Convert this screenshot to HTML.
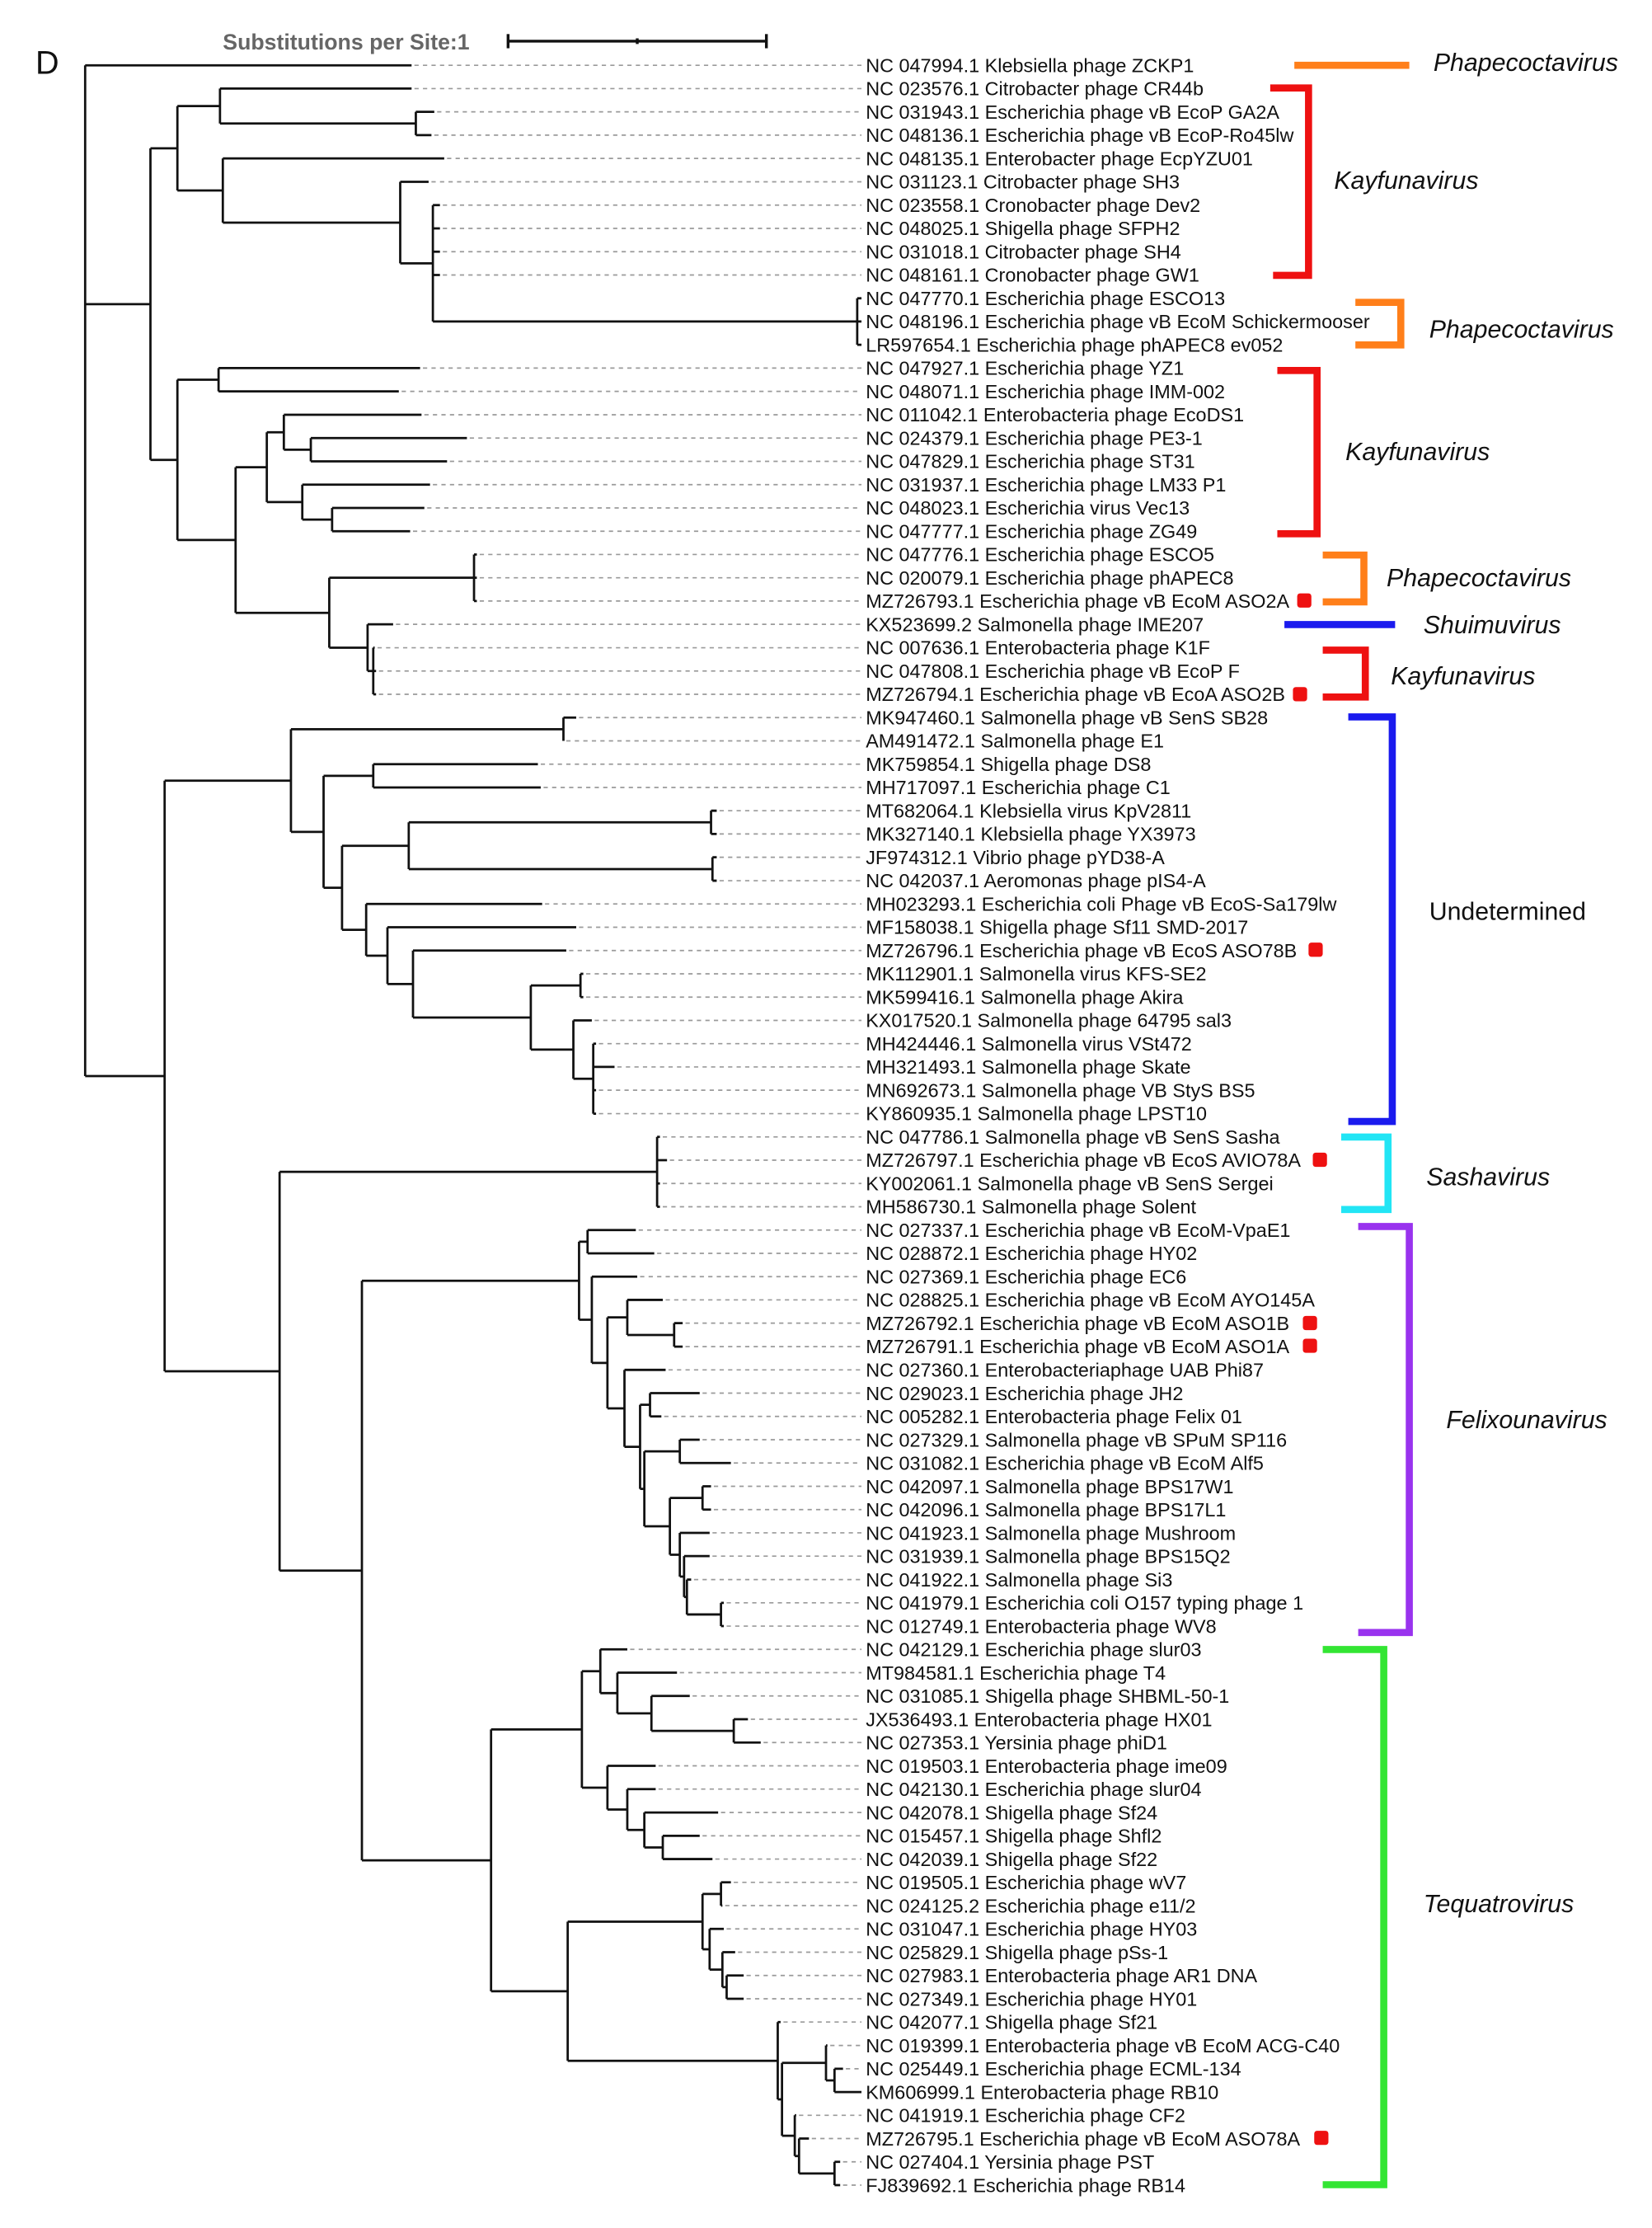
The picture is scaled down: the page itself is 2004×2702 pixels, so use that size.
<!DOCTYPE html>
<html><head><meta charset="utf-8">
<style>
html,body{margin:0;padding:0;background:#fff;}
svg{display:block;}
.lab{font-family:"Liberation Sans",Arial,sans-serif;font-size:13.6px;fill:#111;}
.cl{font-family:"Liberation Sans",Arial,sans-serif;font-size:17.6px;font-style:italic;fill:#111;}
</style></head>
<body>
<svg xmlns="http://www.w3.org/2000/svg" width="2004" height="2702" viewBox="0 0 1164 1569.5" preserveAspectRatio="none">
<rect width="1164" height="1569.5" fill="#fff"/>
<text x="25" y="52" font-family="Liberation Sans,sans-serif" font-size="23" fill="#111">D</text>
<text x="157" y="35" font-family="Liberation Sans,sans-serif" font-size="15.5" font-weight="bold" fill="#666">Substitutions per Site:1</text>
<g stroke="#111" stroke-width="2" fill="none">
<line x1="358" y1="29" x2="540" y2="29"/><line x1="358" y1="24" x2="358" y2="34"/><line x1="540" y1="24" x2="540" y2="34"/><line x1="449" y1="27" x2="449" y2="31"/>
</g>
<path fill="none" stroke="#9a9a9a" stroke-width="1" stroke-dasharray="3,3" d="
M292 46H607 M292 62.4H607 M308 78.8H607 M306 95.2H607 M315 111.6H607 M304 128.1H607
M312 144.5H607 M312 160.9H607 M312 177.3H607 M312 193.7H607
M298 259.3H607 M283 275.7H607 M299 292.2H607 M331 308.6H607 M317 325H607 M305 341.4H607 M301 357.8H607 M291 374.2H607
M338 390.6H607 M338 407H607 M338 423.4H607 M279 439.8H607 M266 456.3H607 M267 472.7H607 M267 489.1H607
M408 505.5H607 M399 521.9H607 M381 538.3H607 M383 554.7H607 M507 571.1H607 M507 587.5H607 M507 603.9H607 M507 620.4H607
M384 636.8H607 M408 653.2H607 M401 669.6H607 M413 686H607 M413 702.4H607 M419 718.8H607 M422 735.2H607 M435 751.6H607 M422 768H607 M422 784.5H607
M467 800.9H607 M472 817.3H607 M467 833.7H607 M467 850.1H607
M450 866.5H607 M463 882.9H607 M451 899.3H607 M469 915.7H607 M483 932.1H607 M483 948.6H607 M471 965H607 M495 981.4H607 M468 997.8H607
M495 1014.2H607 M517 1030.6H607 M503 1047H607 M503 1063.4H607 M502 1079.8H607 M502 1096.2H607 M489 1112.7H607 M512 1129.1H607 M512 1145.5H607
M444 1161.9H607 M479 1178.3H607 M488 1194.7H607 M529 1211.1H607 M538 1227.5H607 M464 1243.9H607 M464 1260.3H607 M508 1276.8H607 M495 1293.2H607 M504 1309.6H607
M517 1326H607 M511 1342.4H607 M512 1358.8H607 M520 1375.2H607 M526 1391.6H607 M526 1408H607
M552 1424.4H607 M585 1440.9H607 M596 1457.3H607 M563 1490.1H607 M572 1506.5H607 M594 1522.9H607 M594 1539.3H607"/>
<path fill="none" stroke="#111" stroke-width="1.6" d="
M60 46V758 M60 46H290 M60 214.3H106 M60 758H116
M106 104.5V324 M106 104.5H125 M106 324H125
M125 74.7V134.2 M125 74.7H155 M125 134.2H157
M155 62.4V87 M155 62.4H290 M155 87H293
M293 78.8V95.2 M293 78.8H306 M293 95.2H304
M157 111.6V156.8 M157 111.6H313 M157 156.8H282
M282 128.1V185.5 M282 128.1H302 M282 185.5H305
M305 144.5V226.5 M305 144.5H310 M305 160.9H310 M305 177.3H310 M305 193.7H310 M305 226.5H604
M604 210.1V242.9 M604 210.1H607 M604 226.5H607 M604 242.9H607
M125 267.5V380.4 M125 267.5H154 M125 380.4H166
M154 259.3V275.7 M154 259.3H296 M154 275.7H281
M166 329.1V431.7 M166 329.1H188 M166 431.7H232
M188 304.5V353.7 M188 304.5H200 M188 353.7H213
M200 292.2V316.8 M200 292.2H297 M200 316.8H219
M219 308.6V325 M219 308.6H329 M219 325H315
M213 341.4V366 M213 341.4H303 M213 366H234
M234 357.8V374.2 M234 357.8H299 M234 374.2H289
M232 407V456.3 M232 407H334 M232 456.3H259
M334 390.6V423.4 M334 390.6H336 M334 407H336 M334 423.4H336
M259 439.8V472.7 M259 439.8H277 M259 472.7H263
M263 456.3V489.1 M263 456.3H264 M263 472.7H265 M263 489.1H265
M116 549.9V966 M116 549.9H205 M116 966H197
M205 513.7V586 M205 513.7H397 M205 586H228
M397 505.5V521.9 M397 505.5H406 M397 521.9H397
M228 546.5V625.4 M228 546.5H263 M228 625.4H241
M263 538.3V554.7 M263 538.3H379 M263 554.7H381
M241 595.8V655 M241 595.8H288 M241 655H258
M288 579.3V612.2 M288 579.3H501 M288 612.2H502
M501 571.1V587.5 M501 571.1H505 M501 587.5H505
M502 603.9V620.4 M502 603.9H505 M502 620.4H505
M258 636.8V673.2 M258 636.8H382 M258 673.2H273
M273 653.2V693.2 M273 653.2H406 M273 693.2H291
M291 669.6V716.8 M291 669.6H399 M291 716.8H374
M374 694.2V739.4 M374 694.2H409 M374 739.4H404
M409 686V702.4 M409 686H411 M409 702.4H411
M404 718.8V759.9 M404 718.8H417 M404 759.9H418
M418 735.2V784.5 M418 735.2H420 M418 751.6H433 M418 768H420 M418 784.5H420
M197 825.5V1106.4 M197 825.5H463 M197 1106.4H255
M463 800.9V850.1 M463 800.9H465 M463 817.3H470 M463 833.7H465 M463 850.1H465
M255 902.2V1310.5 M255 902.2H408 M255 1310.5H346
M408 874.7V929.7 M408 874.7H414 M408 929.7H417
M414 866.5V882.9 M414 866.5H448 M414 882.9H461
M417 899.3V960.1 M417 899.3H449 M417 960.1H428
M428 928V992.1 M428 928H442 M428 992.1H440
M442 915.7V940.4 M442 915.7H467 M442 940.4H475
M475 932.1V948.6 M475 932.1H481 M475 948.6H481
M440 965V1019.2 M440 965H469 M440 1019.2H451
M451 989.6V1048.8 M451 989.6H458 M451 1048.8H454
M458 981.4V997.8 M458 981.4H493 M458 997.8H466
M454 1022.4V1075.2 M454 1022.4H479 M454 1075.2H472
M479 1014.2V1030.6 M479 1014.2H493 M479 1030.6H515
M472 1055.2V1095.2 M472 1055.2H495 M472 1095.2H479
M495 1047V1063.4 M495 1047H501 M495 1063.4H501
M479 1079.8V1110.6 M479 1079.8H500 M479 1110.6H482
M482 1096.2V1125 M482 1096.2H500 M482 1125H484
M484 1112.7V1137.3 M484 1112.7H487 M484 1137.3H508
M508 1129.1V1145.5 M508 1129.1H510 M508 1145.5H510
M346 1218.3V1402.7 M346 1218.3H410 M346 1402.7H400
M410 1177.3V1259.3 M410 1177.3H423 M410 1259.3H428
M423 1161.9V1192.7 M423 1161.9H442 M423 1192.7H435
M435 1178.3V1207 M435 1178.3H477 M435 1207H459
M459 1194.7V1219.3 M459 1194.7H486 M459 1219.3H517
M517 1211.1V1227.5 M517 1211.1H527 M517 1227.5H536
M428 1243.9V1274.7 M428 1243.9H462 M428 1274.7H442
M442 1260.3V1289.1 M442 1260.3H462 M442 1289.1H454
M454 1276.8V1301.4 M454 1276.8H506 M454 1301.4H467
M467 1293.2V1309.6 M467 1293.2H493 M467 1309.6H502
M400 1353.7V1451.7 M400 1353.7H495 M400 1451.7H548
M495 1334.2V1373.2 M495 1334.2H508 M495 1373.2H500
M508 1326V1342.4 M508 1326H515 M508 1342.4H509
M500 1358.8V1387.5 M500 1358.8H510 M500 1387.5H509
M509 1375.2V1399.8 M509 1375.2H518 M509 1399.8H512
M512 1391.6V1408 M512 1391.6H524 M512 1408H524
M548 1424.4V1478.9 M548 1424.4H550 M548 1478.9H551
M551 1453.2V1504.5 M551 1453.2H582 M551 1504.5H560
M582 1440.9V1465.5 M582 1440.9H583 M582 1465.5H588
M588 1457.3V1473.7 M588 1457.3H594 M588 1473.7H607
M560 1490.1V1518.8 M560 1490.1H561 M560 1518.8H563
M563 1506.5V1531.1 M563 1506.5H570 M563 1531.1H588
M588 1522.9V1539.3 M588 1522.9H592 M588 1539.3H592"/>
<text class="lab" x="610" y="34.39">
<tspan x="610" dy="16.41">NC 047994.1 Klebsiella phage ZCKP1</tspan>
<tspan x="610" dy="16.41">NC 023576.1 Citrobacter phage CR44b</tspan>
<tspan x="610" dy="16.41">NC 031943.1 Escherichia phage vB EcoP GA2A</tspan>
<tspan x="610" dy="16.41">NC 048136.1 Escherichia phage vB EcoP-Ro45lw</tspan>
<tspan x="610" dy="16.41">NC 048135.1 Enterobacter phage EcpYZU01</tspan>
<tspan x="610" dy="16.41">NC 031123.1 Citrobacter phage SH3</tspan>
<tspan x="610" dy="16.41">NC 023558.1 Cronobacter phage Dev2</tspan>
<tspan x="610" dy="16.41">NC 048025.1 Shigella phage SFPH2</tspan>
<tspan x="610" dy="16.41">NC 031018.1 Citrobacter phage SH4</tspan>
<tspan x="610" dy="16.41">NC 048161.1 Cronobacter phage GW1</tspan>
<tspan x="610" dy="16.41">NC 047770.1 Escherichia phage ESCO13</tspan>
<tspan x="610" dy="16.41">NC 048196.1 Escherichia phage vB EcoM Schickermooser</tspan>
<tspan x="610" dy="16.41">LR597654.1 Escherichia phage phAPEC8 ev052</tspan>
<tspan x="610" dy="16.41">NC 047927.1 Escherichia phage YZ1</tspan>
<tspan x="610" dy="16.41">NC 048071.1 Escherichia phage IMM-002</tspan>
<tspan x="610" dy="16.41">NC 011042.1 Enterobacteria phage EcoDS1</tspan>
<tspan x="610" dy="16.41">NC 024379.1 Escherichia phage PE3-1</tspan>
<tspan x="610" dy="16.41">NC 047829.1 Escherichia phage ST31</tspan>
<tspan x="610" dy="16.41">NC 031937.1 Escherichia phage LM33 P1</tspan>
<tspan x="610" dy="16.41">NC 048023.1 Escherichia virus Vec13</tspan>
<tspan x="610" dy="16.41">NC 047777.1 Escherichia phage ZG49</tspan>
<tspan x="610" dy="16.41">NC 047776.1 Escherichia phage ESCO5</tspan>
<tspan x="610" dy="16.41">NC 020079.1 Escherichia phage phAPEC8</tspan>
<tspan x="610" dy="16.41">MZ726793.1 Escherichia phage vB EcoM ASO2A</tspan>
<tspan x="610" dy="16.41">KX523699.2 Salmonella phage IME207</tspan>
<tspan x="610" dy="16.41">NC 007636.1 Enterobacteria phage K1F</tspan>
<tspan x="610" dy="16.41">NC 047808.1 Escherichia phage vB EcoP F</tspan>
<tspan x="610" dy="16.41">MZ726794.1 Escherichia phage vB EcoA ASO2B</tspan>
<tspan x="610" dy="16.41">MK947460.1 Salmonella phage vB SenS SB28</tspan>
<tspan x="610" dy="16.41">AM491472.1 Salmonella phage E1</tspan>
<tspan x="610" dy="16.41">MK759854.1 Shigella phage DS8</tspan>
<tspan x="610" dy="16.41">MH717097.1 Escherichia phage C1</tspan>
<tspan x="610" dy="16.41">MT682064.1 Klebsiella virus KpV2811</tspan>
<tspan x="610" dy="16.41">MK327140.1 Klebsiella phage YX3973</tspan>
<tspan x="610" dy="16.41">JF974312.1 Vibrio phage pYD38-A</tspan>
<tspan x="610" dy="16.41">NC 042037.1 Aeromonas phage pIS4-A</tspan>
<tspan x="610" dy="16.41">MH023293.1 Escherichia coli Phage vB EcoS-Sa179lw</tspan>
<tspan x="610" dy="16.41">MF158038.1 Shigella phage Sf11 SMD-2017</tspan>
<tspan x="610" dy="16.41">MZ726796.1 Escherichia phage vB EcoS ASO78B</tspan>
<tspan x="610" dy="16.41">MK112901.1 Salmonella virus KFS-SE2</tspan>
<tspan x="610" dy="16.41">MK599416.1 Salmonella phage Akira</tspan>
<tspan x="610" dy="16.41">KX017520.1 Salmonella phage 64795 sal3</tspan>
<tspan x="610" dy="16.41">MH424446.1 Salmonella virus VSt472</tspan>
<tspan x="610" dy="16.41">MH321493.1 Salmonella phage Skate</tspan>
<tspan x="610" dy="16.41">MN692673.1 Salmonella phage VB StyS BS5</tspan>
<tspan x="610" dy="16.41">KY860935.1 Salmonella phage LPST10</tspan>
<tspan x="610" dy="16.41">NC 047786.1 Salmonella phage vB SenS Sasha</tspan>
<tspan x="610" dy="16.41">MZ726797.1 Escherichia phage vB EcoS AVIO78A</tspan>
<tspan x="610" dy="16.41">KY002061.1 Salmonella phage vB SenS Sergei</tspan>
<tspan x="610" dy="16.41">MH586730.1 Salmonella phage Solent</tspan>
<tspan x="610" dy="16.41">NC 027337.1 Escherichia phage vB EcoM-VpaE1</tspan>
<tspan x="610" dy="16.41">NC 028872.1 Escherichia phage HY02</tspan>
<tspan x="610" dy="16.41">NC 027369.1 Escherichia phage EC6</tspan>
<tspan x="610" dy="16.41">NC 028825.1 Escherichia phage vB EcoM AYO145A</tspan>
<tspan x="610" dy="16.41">MZ726792.1 Escherichia phage vB EcoM ASO1B</tspan>
<tspan x="610" dy="16.41">MZ726791.1 Escherichia phage vB EcoM ASO1A</tspan>
<tspan x="610" dy="16.41">NC 027360.1 Enterobacteriaphage UAB Phi87</tspan>
<tspan x="610" dy="16.41">NC 029023.1 Escherichia phage JH2</tspan>
<tspan x="610" dy="16.41">NC 005282.1 Enterobacteria phage Felix 01</tspan>
<tspan x="610" dy="16.41">NC 027329.1 Salmonella phage vB SPuM SP116</tspan>
<tspan x="610" dy="16.41">NC 031082.1 Escherichia phage vB EcoM Alf5</tspan>
<tspan x="610" dy="16.41">NC 042097.1 Salmonella phage BPS17W1</tspan>
<tspan x="610" dy="16.41">NC 042096.1 Salmonella phage BPS17L1</tspan>
<tspan x="610" dy="16.41">NC 041923.1 Salmonella phage Mushroom</tspan>
<tspan x="610" dy="16.41">NC 031939.1 Salmonella phage BPS15Q2</tspan>
<tspan x="610" dy="16.41">NC 041922.1 Salmonella phage Si3</tspan>
<tspan x="610" dy="16.41">NC 041979.1 Escherichia coli O157 typing phage 1</tspan>
<tspan x="610" dy="16.41">NC 012749.1 Enterobacteria phage WV8</tspan>
<tspan x="610" dy="16.41">NC 042129.1 Escherichia phage slur03</tspan>
<tspan x="610" dy="16.41">MT984581.1 Escherichia phage T4</tspan>
<tspan x="610" dy="16.41">NC 031085.1 Shigella phage SHBML-50-1</tspan>
<tspan x="610" dy="16.41">JX536493.1 Enterobacteria phage HX01</tspan>
<tspan x="610" dy="16.41">NC 027353.1 Yersinia phage phiD1</tspan>
<tspan x="610" dy="16.41">NC 019503.1 Enterobacteria phage ime09</tspan>
<tspan x="610" dy="16.41">NC 042130.1 Escherichia phage slur04</tspan>
<tspan x="610" dy="16.41">NC 042078.1 Shigella phage Sf24</tspan>
<tspan x="610" dy="16.41">NC 015457.1 Shigella phage Shfl2</tspan>
<tspan x="610" dy="16.41">NC 042039.1 Shigella phage Sf22</tspan>
<tspan x="610" dy="16.41">NC 019505.1 Escherichia phage wV7</tspan>
<tspan x="610" dy="16.41">NC 024125.2 Escherichia phage e11/2</tspan>
<tspan x="610" dy="16.41">NC 031047.1 Escherichia phage HY03</tspan>
<tspan x="610" dy="16.41">NC 025829.1 Shigella phage pSs-1</tspan>
<tspan x="610" dy="16.41">NC 027983.1 Enterobacteria phage AR1 DNA</tspan>
<tspan x="610" dy="16.41">NC 027349.1 Escherichia phage HY01</tspan>
<tspan x="610" dy="16.41">NC 042077.1 Shigella phage Sf21</tspan>
<tspan x="610" dy="16.41">NC 019399.1 Enterobacteria phage vB EcoM ACG-C40</tspan>
<tspan x="610" dy="16.41">NC 025449.1 Escherichia phage ECML-134</tspan>
<tspan x="610" dy="16.41">KM606999.1 Enterobacteria phage RB10</tspan>
<tspan x="610" dy="16.41">NC 041919.1 Escherichia phage CF2</tspan>
<tspan x="610" dy="16.41">MZ726795.1 Escherichia phage vB EcoM ASO78A</tspan>
<tspan x="610" dy="16.41">NC 027404.1 Yersinia phage PST</tspan>
<tspan x="610" dy="16.41">FJ839692.1 Escherichia phage RB14</tspan>
</text>
<g fill="#ee1111">
<rect x="914" y="418" width="10" height="10" rx="2"/>
<rect x="911" y="484" width="10" height="10" rx="2"/>
<rect x="922" y="664" width="10" height="10" rx="2"/>
<rect x="925" y="812" width="10" height="10" rx="2"/>
<rect x="918" y="927" width="10" height="10" rx="2"/>
<rect x="918" y="943" width="10" height="10" rx="2"/>
<rect x="926" y="1501" width="10" height="10" rx="2"/>
</g>
<g fill="none" stroke-width="5">
<line x1="912" y1="46" x2="993" y2="46" stroke="#ff7f1a"/>
<path d="M895 62 H922 V194 H897" stroke="#ee1111"/>
<path d="M955 213 H987 V243 H955" stroke="#ff7f1a"/>
<path d="M900 261 H928 V376 H900" stroke="#ee1111"/>
<path d="M932 391 H961 V424 H932" stroke="#ff7f1a"/>
<line x1="905" y1="440" x2="983" y2="440" stroke="#1a1aee"/>
<path d="M932 458 H962 V491 H932" stroke="#ee1111"/>
<path d="M950 505 H981 V790 H950" stroke="#1a1aee"/>
<path d="M945 801 H978 V852 H945" stroke="#22e5f5"/>
<path d="M957 864 H993 V1150 H957" stroke="#9933ee"/>
<path d="M932 1162 H975 V1539 H932" stroke="#33e533"/>
</g>
<text class="cl" x="1010" y="50">Phapecoctavirus</text>
<text class="cl" x="940" y="133">Kayfunavirus</text>
<text class="cl" x="1007" y="238">Phapecoctavirus</text>
<text class="cl" x="948" y="324">Kayfunavirus</text>
<text class="cl" x="977" y="413">Phapecoctavirus</text>
<text class="cl" x="1003" y="446">Shuimuvirus</text>
<text class="cl" x="980" y="482">Kayfunavirus</text>
<text class="cl" x="1007" y="648" style="font-style:normal">Undetermined</text>
<text class="cl" x="1005" y="835">Sashavirus</text>
<text class="cl" x="1019" y="1006">Felixounavirus</text>
<text class="cl" x="1003" y="1347">Tequatrovirus</text>
</svg>
</body></html>
